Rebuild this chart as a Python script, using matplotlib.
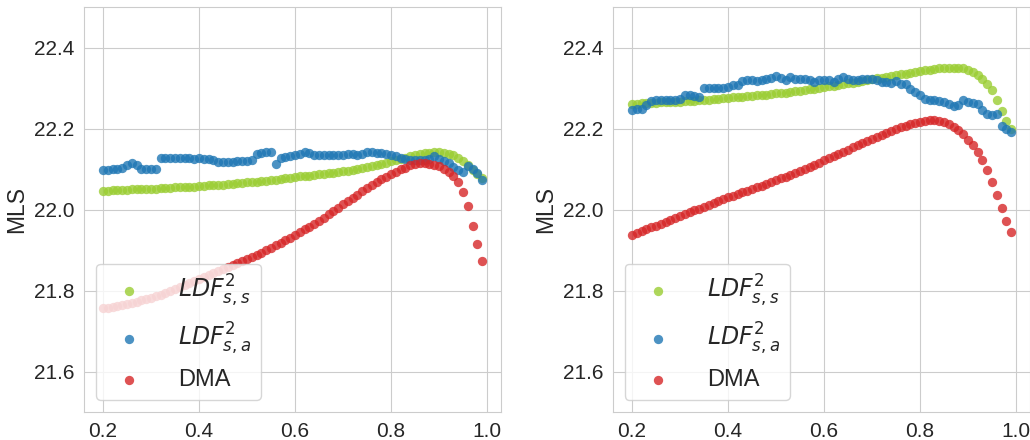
import numpy as np
import matplotlib
matplotlib.use("Agg")
import matplotlib.pyplot as plt
import seaborn as sns

sns.set_style("whitegrid")
plt.rcParams["font.family"] = ["Liberation Sans", "DejaVu Sans"]

# confidence threshold grid
x = np.round(np.arange(0.20, 1.00, 0.01), 2)

labels = [r"$LDF^2_{s,s}$", r"$LDF^2_{s,a}$", "DMA"]
colors = ["#9acd32", "#1f77b4", "#d62728"]

# left panel
left_ss = [
    22.047, 22.047, 22.048, 22.048, 22.049, 22.049, 22.050, 22.050, 22.051, 22.051,
    22.052, 22.052, 22.053, 22.053, 22.054, 22.055, 22.055, 22.056, 22.057, 22.057,
    22.058, 22.059, 22.060, 22.060, 22.061, 22.062, 22.063, 22.064, 22.065, 22.066,
    22.067, 22.068, 22.069, 22.070, 22.071, 22.073, 22.074, 22.076, 22.077, 22.079,
    22.081, 22.082, 22.083, 22.084, 22.085, 22.087, 22.088, 22.090, 22.091, 22.093,
    22.095, 22.096, 22.098, 22.100, 22.103, 22.105, 22.108, 22.111, 22.113, 22.116,
    22.119, 22.122, 22.125, 22.128, 22.132, 22.135, 22.137, 22.140, 22.141, 22.142,
    22.142, 22.141, 22.138, 22.134, 22.128, 22.120, 22.111, 22.099, 22.089, 22.077,
]
left_sa = [
    22.099, 22.099, 22.100, 22.101, 22.104, 22.109, 22.115, 22.111, 22.101, 22.100,
    22.100, 22.100, 22.127, 22.127, 22.127, 22.127, 22.127, 22.127, 22.127, 22.126,
    22.127, 22.126, 22.126, 22.123, 22.118, 22.118, 22.118, 22.118, 22.119, 22.120,
    22.121, 22.123, 22.137, 22.141, 22.142, 22.142, 22.112, 22.128, 22.130, 22.133,
    22.136, 22.138, 22.142, 22.140, 22.136, 22.135, 22.134, 22.134, 22.134, 22.134,
    22.136, 22.138, 22.138, 22.136, 22.138, 22.142, 22.142, 22.141, 22.140, 22.138,
    22.136, 22.132, 22.128, 22.126, 22.123, 22.122, 22.123, 22.123, 22.126, 22.133,
    22.126, 22.120, 22.114, 22.105, 22.099, 22.093, 22.107, 22.101, 22.091, 22.074,
]
left_dma = [
    21.756, 21.758, 21.760, 21.762, 21.764, 21.767, 21.770, 21.773, 21.776, 21.779,
    21.782, 21.786, 21.790, 21.794, 21.798, 21.803, 21.808, 21.813, 21.818, 21.823,
    21.828, 21.833, 21.838, 21.843, 21.848, 21.853, 21.858, 21.863, 21.868, 21.873,
    21.878, 21.883, 21.889, 21.894, 21.900, 21.906, 21.912, 21.918, 21.924, 21.930,
    21.937, 21.944, 21.951, 21.958, 21.965, 21.973, 21.980, 21.988, 21.996, 22.004,
    22.013, 22.021, 22.029, 22.037, 22.045, 22.053, 22.061, 22.068, 22.076, 22.081,
    22.088, 22.094, 22.100, 22.104, 22.109, 22.112, 22.114, 22.114, 22.113, 22.111,
    22.107, 22.101, 22.093, 22.083, 22.067, 22.044, 22.008, 21.959, 21.914, 21.873,
]

# right panel
right_ss = [
    22.262, 22.262, 22.263, 22.263, 22.264, 22.264, 22.265, 22.265, 22.266, 22.266,
    22.267, 22.268, 22.269, 22.269, 22.270, 22.271, 22.272, 22.273, 22.274, 22.275,
    22.276, 22.277, 22.278, 22.279, 22.280, 22.281, 22.282, 22.283, 22.284, 22.285,
    22.287, 22.288, 22.289, 22.291, 22.292, 22.294, 22.295, 22.297, 22.299, 22.301,
    22.303, 22.305, 22.306, 22.308, 22.310, 22.312, 22.314, 22.316, 22.318, 22.320,
    22.322, 22.324, 22.326, 22.328, 22.330, 22.332, 22.334, 22.336, 22.338, 22.340,
    22.342, 22.344, 22.346, 22.348, 22.349, 22.350, 22.351, 22.351, 22.351, 22.349,
    22.346, 22.341, 22.333, 22.323, 22.311, 22.295, 22.272, 22.244, 22.218, 22.200,
]
right_sa = [
    22.247, 22.248, 22.249, 22.258, 22.268, 22.272, 22.272, 22.272, 22.272, 22.272,
    22.273, 22.282, 22.284, 22.281, 22.278, 22.300, 22.301, 22.301, 22.301, 22.301,
    22.303, 22.307, 22.309, 22.318, 22.319, 22.319, 22.318, 22.319, 22.323, 22.326,
    22.330, 22.326, 22.319, 22.328, 22.323, 22.322, 22.322, 22.321, 22.316, 22.321,
    22.321, 22.319, 22.315, 22.323, 22.327, 22.323, 22.319, 22.321, 22.323, 22.323,
    22.323, 22.319, 22.315, 22.315, 22.313, 22.318, 22.311, 22.311, 22.299, 22.290,
    22.283, 22.274, 22.272, 22.270, 22.268, 22.266, 22.261, 22.256, 22.258, 22.272,
    22.266, 22.263, 22.260, 22.245, 22.237, 22.233, 22.235, 22.206, 22.200, 22.192,
]
right_dma = [
    21.937, 21.942, 21.946, 21.951, 21.956, 21.960, 21.965, 21.970, 21.974, 21.979,
    21.984, 21.989, 21.993, 21.998, 22.002, 22.007, 22.012, 22.016, 22.021, 22.025,
    22.030, 22.034, 22.038, 22.043, 22.047, 22.051, 22.055, 22.059, 22.063, 22.068,
    22.072, 22.077, 22.081, 22.086, 22.091, 22.096, 22.101, 22.106, 22.111, 22.116,
    22.122, 22.127, 22.132, 22.138, 22.143, 22.148, 22.154, 22.159, 22.164, 22.170,
    22.175, 22.180, 22.185, 22.190, 22.195, 22.199, 22.203, 22.207, 22.211, 22.214,
    22.217, 22.219, 22.221, 22.222, 22.220, 22.216, 22.212, 22.204, 22.196, 22.186,
    22.171, 22.159, 22.142, 22.122, 22.097, 22.068, 22.035, 22.003, 21.972, 21.945,
]

panels = [(left_ss, left_sa, left_dma), (right_ss, right_sa, right_dma)]

fig = plt.figure(figsize=(10.3, 4.4), dpi=100)
axes = [fig.add_axes([0.0816, 0.0636, 0.405, 0.92]),
        fig.add_axes([0.5951, 0.0636, 0.405, 0.92])]

for ax, series in zip(axes, panels):
    for y, lab, col in zip(series, labels, colors):
        ax.scatter(x, y, s=45, color=col, alpha=0.8, linewidths=0, label=lab)
    ax.set_ylim(21.5, 22.5)
    ax.set_yticks([21.6, 21.8, 22.0, 22.2, 22.4])
    ax.set_xticks([0.2, 0.4, 0.6, 0.8, 1.0])
    ax.tick_params(labelsize=15)
    ax.set_ylabel("MLS", fontsize=16.5)
    ax.legend(loc="lower left", fontsize=17, handletextpad=1.1)

fig.savefig("out.png", dpi=100)
